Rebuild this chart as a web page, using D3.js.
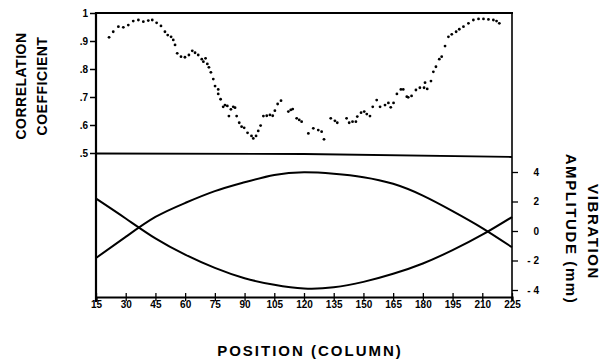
<!DOCTYPE html>
<html>
<head>
<meta charset="utf-8">
<script src="https://cdn.jsdelivr.net/npm/d3@7"></script>
<style>
  body { margin: 0; background: #fff; }
  svg { display: block; font-family: "Liberation Sans", Arial, sans-serif; }
  .tick text { font-weight: bold; fill: #000; }
</style>
</head>
<body>
<svg width="603" height="361"></svg>
<script>
const svg = d3.select("svg");

// x axis (column position)
const xTicks = [15, 30, 45, 60, 75, 90, 105, 120, 135, 150, 165, 180, 195, 210, 225];

// upper panel: correlation coefficient (position, value)
const corrPos = [21.6, 23.7, 26.3, 28.8, 31.3, 33.8, 36.4, 38.9, 41.4, 43.4, 45.6, 47.8, 49.8, 51.2, 52.9, 54.0, 54.9, 56.0, 57.9, 59.9,
  61.9, 63.6, 65.0, 66.6, 68.4, 69.2, 70.3, 71.2, 72.0, 73.0, 74.2, 75.1, 76.7, 76.7, 77.9, 79.2, 80.1, 81.3, 82.1, 83.1,
  84.3, 85.2, 86.0, 87.3, 88.5, 89.8, 91.5, 93.5, 94.4, 95.8, 96.9, 98.1, 99.5, 101.2, 102.8, 104.2, 105.3, 106.7, 108.4, 112.1,
  113.3, 114.3, 116.3, 117.6, 118.8, 122.2, 124.7, 127.2, 128.9, 130.1, 133.5, 135.6, 136.8, 141.5, 142.8, 144.5, 146.2, 146.9, 148.8, 150.4,
  151.7, 153.3, 154.7, 156.7, 158.4, 160.9, 162.6, 163.8, 165.2, 166.9, 168.9, 170.1, 171.9, 172.6, 174.3, 176.5, 178.5, 180.6, 181.1, 182.2,
  184.1, 185.3, 186.6, 188.3, 189.5, 191.2, 192.9, 194.6, 196.8, 198.4, 200.5, 203.0, 205.5, 208.1, 210.6, 213.1, 215.6, 217.2, 218.6];
const corrVal = [0.913, 0.933, 0.951, 0.949, 0.957, 0.971, 0.975, 0.969, 0.973, 0.975, 0.965, 0.954, 0.933, 0.921, 0.915, 0.904, 0.886, 0.856, 0.844, 0.842,
  0.850, 0.865, 0.858, 0.850, 0.835, 0.826, 0.838, 0.818, 0.806, 0.788, 0.764, 0.739, 0.727, 0.711, 0.692, 0.665, 0.671, 0.668, 0.632, 0.656,
  0.665, 0.662, 0.632, 0.608, 0.594, 0.590, 0.572, 0.561, 0.552, 0.561, 0.579, 0.598, 0.632, 0.633, 0.636, 0.633, 0.651, 0.675, 0.687, 0.648,
  0.654, 0.657, 0.624, 0.618, 0.612, 0.570, 0.588, 0.582, 0.576, 0.549, 0.624, 0.615, 0.608, 0.624, 0.608, 0.612, 0.612, 0.630, 0.644, 0.648,
  0.639, 0.632, 0.665, 0.689, 0.665, 0.671, 0.679, 0.663, 0.679, 0.711, 0.727, 0.727, 0.701, 0.699, 0.704, 0.725, 0.733, 0.733, 0.751, 0.729,
  0.757, 0.790, 0.808, 0.835, 0.844, 0.882, 0.915, 0.924, 0.933, 0.942, 0.951, 0.963, 0.975, 0.979, 0.979, 0.977, 0.975, 0.971, 0.963];
const corrTicks = [1, 0.9, 0.8, 0.7, 0.6, 0.5];
const corrLabels = ["1", ".9", ".8", ".7", ".6", ".5"];

// lower panel: vibration amplitude (mm), two mode shapes
const ampPos = [15, 30, 45, 60, 75, 90, 105, 120, 135, 150, 165, 180, 195, 210, 225];
const ampA = [-1.83, -0.4, 0.95, 1.9, 2.7, 3.3, 3.8, 3.98, 3.88, 3.65, 3.2, 2.4, 1.35, 0.2, -1.1];
const ampB = [2.2, 0.85, -0.5, -1.6, -2.5, -3.2, -3.65, -3.9, -3.82, -3.45, -2.9, -2.2, -1.3, -0.25, 0.95];
const ampTicks = [4, 2, 0, -2, -4];
const ampLabels = ["4", "2", "0", "- 2", "- 4"];

const xL = 96, xR = 512, yTop = 13, yMid = 153, yBot = 297;

const x = d3.scaleLinear().domain([15, 225]).range([xL, xR]);
const yC = d3.scaleLinear().domain([0.5, 1]).range([yMid, yTop]);
const yA = d3.scaleLinear().domain([-4, 4]).range([290, 172]);

// frame
svg.append("line").attr("x1", xL - 1).attr("x2", xR + 1).attr("y1", yTop).attr("y2", yTop)
  .attr("stroke", "#000").attr("stroke-width", 2);
svg.append("line").attr("x1", xR).attr("x2", xR).attr("y1", yTop).attr("y2", yBot + 3)
  .attr("stroke", "#000").attr("stroke-width", 1.6);
svg.append("path").attr("d", `M${xL},${yMid + 0.5}L${x(120)},${yMid + 1}L${xR},${yMid + 4}`)
  .attr("fill", "none").attr("stroke", "#000").attr("stroke-width", 1.8);

// upper y axis
const gC = svg.append("g").attr("transform", `translate(${xL},0)`)
  .call(d3.axisLeft(yC).tickValues(corrTicks).tickSize(6).tickPadding(2)
    .tickFormat((d, i) => corrLabels[i]));
gC.select(".domain").remove();
gC.selectAll(".tick line").attr("stroke-width", 1.5);
gC.selectAll(".tick text").attr("font-size", 10);

// left axis line (whole height)
svg.append("line").attr("x1", xL).attr("x2", xL).attr("y1", yTop - 1).attr("y2", yBot + 5)
  .attr("stroke", "#000").attr("stroke-width", 2.2);

// right y axis (amplitude)
const gA = svg.append("g").attr("transform", `translate(${xR},0)`)
  .call(d3.axisRight(yA).tickValues(ampTicks).tickSize(6).tickPadding(11)
    .tickFormat((d, i) => ampLabels[i]));
gA.select(".domain").remove();
gA.selectAll(".tick line").attr("stroke-width", 1.3);
gA.selectAll(".tick text").attr("font-size", 10).attr("text-anchor", "end").attr("dx", 10);

// bottom x axis
const gX = svg.append("g").attr("transform", `translate(0,${yBot})`)
  .call(d3.axisBottom(x).tickValues(xTicks).tickSize(4).tickPadding(0));
gX.select(".domain").attr("stroke-width", 2.2);
gX.selectAll(".tick line").attr("y1", -4).attr("stroke-width", 1.3);
gX.selectAll(".tick text").attr("font-size", 10);

// correlation points
svg.append("g").selectAll("circle")
  .data(corrPos.map((p, i) => [p, corrVal[i]]))
  .join("circle")
  .attr("cx", d => x(d[0]))
  .attr("cy", d => yC(d[1]))
  .attr("r", 1.4)
  .attr("fill", "#000");

// amplitude curves
const line = d3.line().curve(d3.curveNatural).x(d => x(d[0])).y(d => yA(d[1]));
[ampA, ampB].forEach(s => {
  svg.append("path")
    .datum(ampPos.map((p, i) => [p, s[i]]))
    .attr("d", line)
    .attr("fill", "none")
    .attr("stroke", "#000")
    .attr("stroke-width", 2);
});

// titles
const title = (tx, ty, rot, txt, size, ls) => svg.append("text")
  .attr("transform", `translate(${tx},${ty}) rotate(${rot})`)
  .attr("text-anchor", "middle")
  .attr("font-size", size)
  .attr("font-weight", "bold")
  .attr("letter-spacing", ls)
  .text(txt);

title(26, 86, -90, "CORRELATION", 14, 0.5);
title(47, 86, -90, "COEFFICIENT", 14, 0.5);
title(588, 232, 90, "VIBRATION", 15, 1.6);
title(566, 229, 90, "AMPLITUDE (mm)", 15, 1.6);
title(310, 356, 0, "POSITION (COLUMN)", 15, 2);
</script>
</body>
</html>
